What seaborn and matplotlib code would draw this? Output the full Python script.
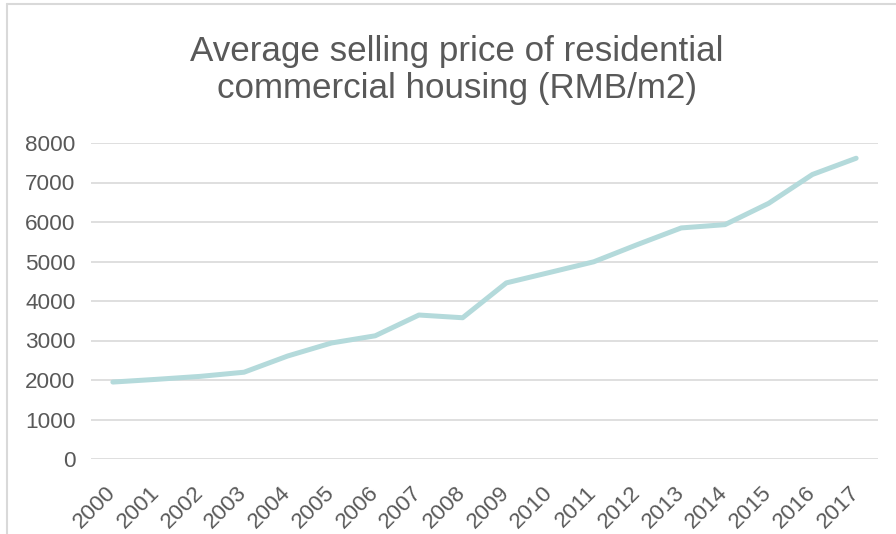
import matplotlib
matplotlib.use("Agg")
import matplotlib.pyplot as plt
from matplotlib.lines import Line2D
import seaborn as sns
import pandas as pd

years = [str(y) for y in range(2000, 2018)]
price = [1948, 2017, 2092, 2197, 2608, 2937, 3119, 3645, 3576, 4459,
         4725, 4993, 5430, 5850, 5933, 6473, 7203, 7614]
y_ticks = [0, 1000, 2000, 3000, 4000, 5000, 6000, 7000, 8000]
title = "Average selling price of residential\ncommercial housing (RMB/m2)"

sns.set_theme(style="white")
plt.rcParams["font.family"] = ["Liberation Sans", "DejaVu Sans"]

text_color = "#595959"
grid_color = "#D9D9D9"
line_color = "#B4DADB"

W, H = 896, 534
fig = plt.figure(figsize=(W / 100, H / 100), dpi=100)
ax = fig.add_axes([91 / W, (H - 459) / H, 787 / W, 316 / H])

df = pd.DataFrame({"year": years, "price": price})
sns.lineplot(data=df, x="year", y="price", ax=ax, color=line_color,
             linewidth=3.6, sort=False)

ax.set_xlim(-0.5, len(years) - 0.5)
ax.set_ylim(0, 8000)
ax.set_yticks(y_ticks)
ax.set_yticklabels([str(v) for v in y_ticks])
ax.yaxis.grid(True, color=grid_color, linewidth=1.2)
ax.xaxis.grid(False)
ax.set_axisbelow(True)
for s in ax.spines.values():
    s.set_visible(False)
ax.set_xlabel("")
ax.set_ylabel("")

ax.tick_params(axis="y", length=0, pad=11, labelsize=16.2, labelcolor=text_color)
ax.tick_params(axis="x", length=0, pad=22, labelsize=16.2, labelcolor=text_color)
for lbl in ax.get_xticklabels():
    lbl.set_rotation(45)
    lbl.set_ha("right")
    lbl.set_va("center")
    lbl.set_rotation_mode("anchor")

fig.text(457 / W, 1 - 98 / H, title, ha="center", va="baseline",
         fontsize=25.2, color=text_color, linespacing=1.17)

# chart frame edges
fig.add_artist(Line2D([7 / W, 7 / W], [0, 1 - 4 / H], transform=fig.transFigure,
                      color=grid_color, linewidth=1.5))
fig.add_artist(Line2D([7 / W, 1], [1 - 4 / H, 1 - 4 / H], transform=fig.transFigure,
                      color=grid_color, linewidth=1.5))

fig.savefig("out.png", dpi=100, facecolor="white")
